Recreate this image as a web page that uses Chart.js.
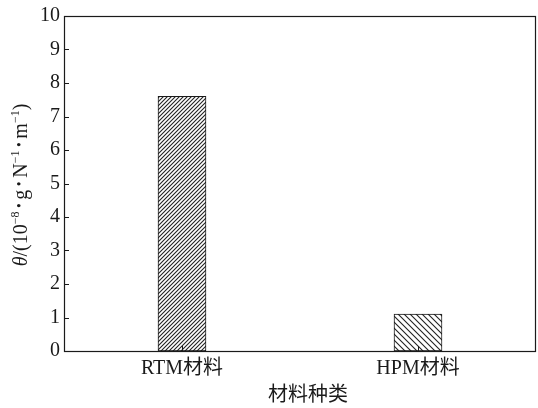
<!DOCTYPE html>
<html>
<head>
<meta charset="utf-8">
<script src="https://cdn.jsdelivr.net/npm/chart.js@4"></script>
<style>
  html, body { margin: 0; padding: 0; background: #fff; }
  #c { display: block; }
</style>
</head>
<body>
<canvas id="c" width="538" height="408"></canvas>
<script>
// Permeability coefficient by material type
const categories = ['RTM材料', 'HPM材料'];
const permeability = [7.6, 1.1];
const yTicks = [0, 1, 2, 3, 4, 5, 6, 7, 8, 9, 10];
const xTitle = '材料种类';

const SERIF = "'Liberation Serif', 'Times New Roman', 'Noto Sans CJK SC', serif";
const INK = '#1a1a1a';

const canvas = document.getElementById('c');
const ctx = canvas.getContext('2d');

// Diagonal hatch fill; dir > 0 gives "////", dir < 0 gives "\\\\"
function hatch(step, dir) {
  const t = document.createElement('canvas');
  t.width = t.height = step;
  const g = t.getContext('2d');
  g.fillStyle = '#fff';
  g.fillRect(0, 0, step, step);
  g.strokeStyle = '#222';
  g.lineWidth = 1.1;
  g.beginPath();
  if (dir > 0) {
    g.moveTo(-1, step + 1); g.lineTo(step + 1, -1);
    g.moveTo(-1, 1); g.lineTo(1, -1);
    g.moveTo(step - 1, step + 1); g.lineTo(step + 1, step - 1);
  } else {
    g.moveTo(-1, -1); g.lineTo(step + 1, step + 1);
    g.moveTo(step - 1, -1); g.lineTo(step + 1, 1);
    g.moveTo(-1, step - 1); g.lineTo(1, step + 1);
  }
  g.stroke();
  return ctx.createPattern(t, 'repeat');
}

// Frame, inward tick marks and axis titles
const decorations = {
  id: 'decorations',
  afterDraw(chart) {
    const { ctx, chartArea: a, scales } = chart;
    ctx.save();
    ctx.strokeStyle = INK;
    ctx.lineWidth = 1.2;
    ctx.strokeRect(Math.round(a.left) + 0.5, Math.round(a.top) + 0.5,
                   Math.round(a.right - a.left) - 1, Math.round(a.bottom - a.top));

    ctx.lineWidth = 1;
    ctx.beginPath();
    yTicks.forEach(v => {
      const y = Math.round(scales.y.getPixelForValue(v)) + 0.5;
      ctx.moveTo(a.left, y); ctx.lineTo(a.left + 5, y);
    });
    categories.forEach((c, i) => {
      const x = Math.round(scales.x.getPixelForValue(i)) + 0.5;
      ctx.moveTo(x, a.bottom); ctx.lineTo(x, a.bottom - 5);
    });
    ctx.stroke();

    // x-axis title
    ctx.fillStyle = INK;
    ctx.font = "20px 'Noto Sans CJK SC', sans-serif";
    ctx.textAlign = 'center';
    ctx.textBaseline = 'middle';
    ctx.fillText(xTitle, (a.left + a.right) / 2 + 8, 393);

    // y-axis title with superscripts
    const parts = [
      { t: 'θ', f: 'italic 20px ' + SERIF },
      { t: '/(10', f: '20px ' + SERIF },
      { t: '−8', f: '12px ' + SERIF, sup: true },
      { t: ' • ', f: '14px ' + SERIF },
      { t: 'g', f: '20px ' + SERIF },
      { t: ' • ', f: '14px ' + SERIF },
      { t: 'N', f: '20px ' + SERIF },
      { t: '−1', f: '12px ' + SERIF, sup: true },
      { t: ' • ', f: '14px ' + SERIF },
      { t: 'm', f: '20px ' + SERIF },
      { t: '−1', f: '12px ' + SERIF, sup: true },
      { t: ')', f: '20px ' + SERIF }
    ];
    let total = 0;
    parts.forEach(p => { ctx.font = p.f; p.w = ctx.measureText(p.t).width; total += p.w; });
    ctx.translate(27, 185);
    ctx.rotate(-Math.PI / 2);
    ctx.textAlign = 'left';
    ctx.textBaseline = 'alphabetic';
    let x = -total / 2;
    parts.forEach(p => {
      ctx.font = p.f;
      ctx.fillText(p.t, x, p.sup ? -8 : (p.t.includes('•') ? -3 : 0));
      x += p.w;
    });
    ctx.restore();
  }
};

new Chart(ctx, {
  type: 'bar',
  data: {
    labels: categories,
    datasets: [{
      data: permeability,
      backgroundColor: [hatch(4, 1), hatch(6, -1)],
      borderColor: INK,
      borderWidth: 1,
      borderSkipped: false,
      barThickness: 48
    }]
  },
  options: {
    responsive: false,
    animation: false,
    devicePixelRatio: 1,
    layout: { padding: { top: 11, right: 2, left: 0, bottom: 0 } },
    plugins: { legend: { display: false }, tooltip: { enabled: false } },
    scales: {
      x: {
        offset: true,
        grid: { display: false, drawTicks: false },
        border: { display: false },
        ticks: { color: INK, padding: 6, font: { family: SERIF, size: 20 } },
        afterFit(s) { s.height = 57; }
      },
      y: {
        min: 0,
        max: 10,
        grid: { display: false, drawTicks: false },
        border: { display: false },
        afterBuildTicks(s) { s.ticks = yTicks.map(v => ({ value: v })); },
        ticks: { color: INK, padding: 4, font: { family: SERIF, size: 20 } },
        afterFit(s) { s.width = 64; }
      }
    }
  },
  plugins: [decorations]
});
</script>
</body>
</html>
